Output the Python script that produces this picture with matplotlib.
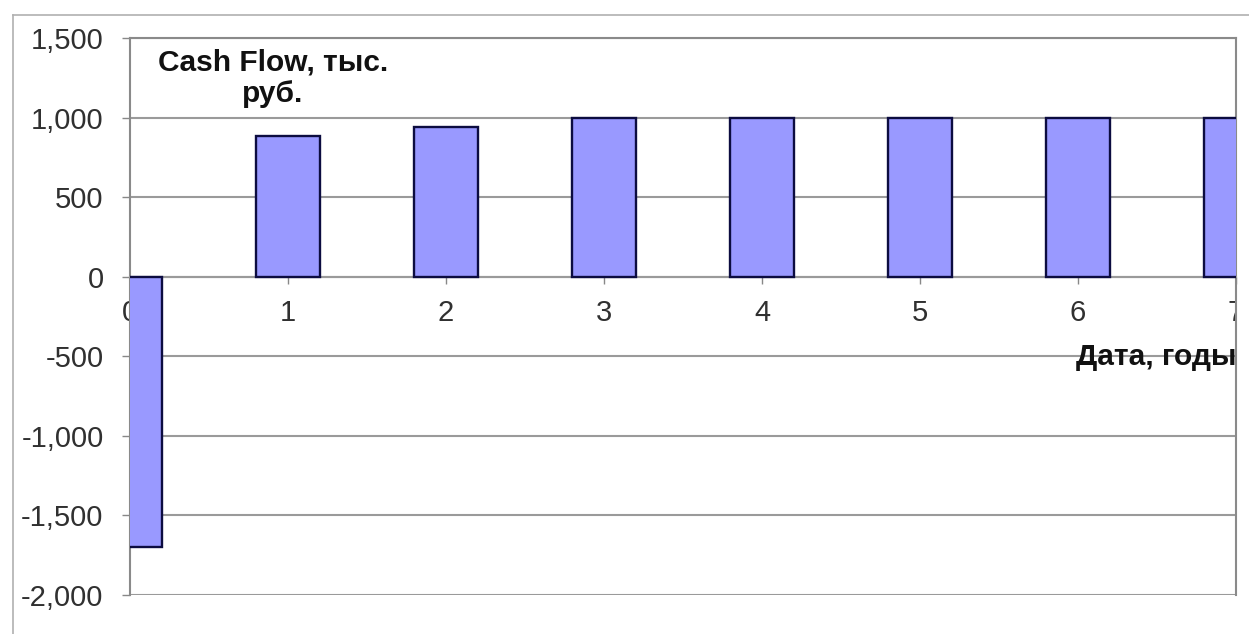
import matplotlib.pyplot as plt
from matplotlib.lines import Line2D
from matplotlib.transforms import Bbox, TransformedBbox

years = [0, 1, 2, 3, 4, 5, 6, 7]
year_labels = ["0", "1", "2", "3", "4", "5", "6", "7"]
cash_flow = [-1700, 883, 939, 1000, 1000, 1000, 1000, 1000]
y_ticks = [-2000, -1500, -1000, -500, 0, 500, 1000, 1500]

plt.rcParams['font.family'] = ['Liberation Sans', 'DejaVu Sans']

fig = plt.figure(figsize=(12.49, 6.34), dpi=100)
ax = fig.add_axes([130 / 1249, 1 - 595 / 634, 1106 / 1249, 557 / 634])

ax.bar(years, cash_flow, width=0.41, color='#9999ff', edgecolor='#0c0c40',
       linewidth=1.7, zorder=3)

ax.set_xlim(0, 7)
ax.set_ylim(-2000, 1500)
ax.set_yticks(y_ticks)
ax.set_yticklabels([f"{v:,}" for v in y_ticks])
ax.yaxis.grid(True, color='#9a9a9a', linewidth=1.5, zorder=0)
ax.set_axisbelow(True)
ax.tick_params(axis='y', length=6, width=1, color='#888888', pad=13,
               labelsize=21, labelcolor='#303030')

# category axis crosses at zero
ax.spines['bottom'].set_position(('data', 0))
ax.spines['bottom'].set_color('#9a9a9a')
ax.spines['bottom'].set_linewidth(1.5)
ax.set_xticks(years)
ax.set_xticklabels([])
ax.tick_params(axis='x', length=5, width=1, color='#888888', direction='out')
for side in ['left', 'right', 'top']:
    ax.spines[side].set_color('#8a8a8a')
    ax.spines[side].set_linewidth(1.5)

# labels get cut at the right edge of the plot
clip = TransformedBbox(Bbox([[0, 0], [1237 / 1249, 1]]), fig.transFigure)
for x, lab in zip(years, year_labels):
    t = ax.text(x, -226, lab, ha='center', va='center', fontsize=21,
                color='#303030', zorder=1.5)
    t.set_clip_on(True)
    t.set_clip_box(clip)

ax.text(0.129, 0.982, "Cash Flow, тыс.\nруб.", transform=ax.transAxes,
        ha='center', va='top', fontsize=21.5, fontweight='bold',
        linespacing=1.2, color='#111111', zorder=4)
t = ax.text(5.99, -553, "Дата, годы", ha='left', va='baseline',
            fontsize=21.5, fontweight='bold', color='#111111', zorder=4)
t.set_clip_on(True)
t.set_clip_box(clip)

# outer chart border
fig.add_artist(Line2D([13 / 1249, 13 / 1249], [0, 1 - 15 / 634],
                      transform=fig.transFigure, color='#b0b0b0', lw=1.2))
fig.add_artist(Line2D([13 / 1249, 1], [1 - 15 / 634, 1 - 15 / 634],
                      transform=fig.transFigure, color='#b0b0b0', lw=1.2))

fig.savefig("out.png", dpi=100)
